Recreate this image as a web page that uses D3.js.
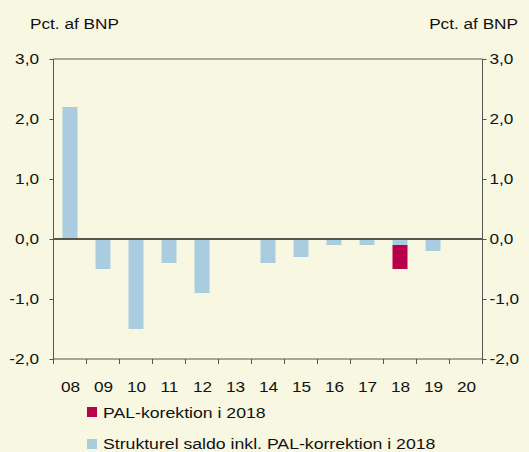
<!DOCTYPE html>
<head>
    <meta charset="utf-8">
    <title>Strukturel saldo</title>
    <style>
        body { margin: 0; background: #f8f8e2; }
        svg { display: block; }
        text { font-family: "Liberation Sans", Arial, sans-serif; font-size: 15.5px; fill: #111; }
        .domain, .tick line { stroke: #555; }
    </style>
</head>
<body>

<svg width="529" height="452"></svg>

<script src="https://d3js.org/d3.v7.min.js"></script>

<script>

// data
var years = ['08', '09', '10', '11', '12', '13', '14', '15', '16', '17', '18', '19', '20'];
var strukturel = [2.2, -0.5, -1.5, -0.4, -0.9, 0, -0.4, -0.3, -0.1, -0.1, -0.1, -0.2, 0];
var palKorrektion = [0, 0, 0, 0, 0, 0, 0, 0, 0, 0, -0.4, 0, 0];
var yTicks = [-2, -1, 0, 1, 2, 3];
var legendLabels = ['PAL-korektion i 2018', 'Strukturel saldo inkl. PAL-korrektion i 2018'];
var unit = 'Pct. af BNP';

var blue = '#a9cddf',
    red = '#b8004b',
    sx = 1.11; // text in the original is a bit wide

var svg = d3.select('svg'),
    plotLeft = 53.5, plotRight = 482.5, plotTop = 59, plotBottom = 359;

var x = d3.scaleBand()
    .domain(years)
    .range([plotLeft, plotRight])
    .paddingInner(0.545)
    .paddingOuter(0.2725);

var xb = d3.scaleBand()
    .domain(years)
    .range([plotLeft, plotRight]);

var y = d3.scaleLinear()
    .domain([-2, 3])
    .range([plotBottom, plotTop]);

var fmt = d3.formatLocale({decimal: ',', thousands: '.', grouping: [3], currency: ['', ''], minus: '-'}).format('.1f');

// stacked: structural part first, PAL correction below it
var rows = years.map((d, i) => ({year: d, s: strukturel[i], p: palKorrektion[i]}));

svg.append('g').selectAll('rect')
    .data(rows)
    .enter().append('rect')
        .attr('x', d => x(d.year))
        .attr('width', x.bandwidth())
        .attr('y', d => y(Math.max(0, d.s)))
        .attr('height', d => Math.abs(y(d.s) - y(0)))
        .attr('fill', blue);

svg.append('g').selectAll('rect')
    .data(rows.filter(d => d.p !== 0))
    .enter().append('rect')
        .attr('x', d => x(d.year))
        .attr('width', x.bandwidth())
        .attr('y', d => y(d.s))
        .attr('height', d => Math.abs(y(d.s + d.p) - y(d.s)))
        .attr('fill', red);

// y axes
var yl = svg.append('g')
    .attr('transform', `translate(${plotLeft},0)`)
    .call(d3.axisLeft(y).tickValues(yTicks).tickSize(4).tickFormat(fmt));
yl.selectAll('text')
    .attr('x', -14.5 / sx)
    .attr('transform', `scale(${sx},1)`)
    .style('font-size', '15.5px');

var yr = svg.append('g')
    .attr('transform', `translate(${plotRight},0)`)
    .call(d3.axisRight(y).tickValues(yTicks).tickSize(4).tickFormat(fmt));
yr.selectAll('text')
    .attr('x', 7 / sx)
    .attr('transform', `scale(${sx},1)`)
    .style('font-size', '15.5px');

svg.selectAll('.domain').remove();

// frame
svg.append('line')
    .attr('x1', plotLeft).attr('x2', plotRight)
    .attr('y1', y(3)).attr('y2', y(3))
    .attr('stroke', '#555');
svg.append('line')
    .attr('x1', plotLeft).attr('x2', plotLeft)
    .attr('y1', y(3)).attr('y2', y(-2))
    .attr('stroke', '#555');
svg.append('line')
    .attr('x1', plotRight).attr('x2', plotRight)
    .attr('y1', y(3)).attr('y2', y(-2))
    .attr('stroke', '#555');

// zero line
svg.append('line')
    .attr('x1', plotLeft).attr('x2', plotRight)
    .attr('y1', y(0)).attr('y2', y(0))
    .attr('stroke', '#55554c')
    .attr('stroke-width', 2);

// x axis with ticks between the years
var xa = svg.append('g');
xa.append('line')
    .attr('x1', plotLeft).attr('x2', plotRight)
    .attr('y1', plotBottom).attr('y2', plotBottom)
    .attr('stroke', '#555');
xa.selectAll('.xt')
    .data(years.map(d => xb(d)).concat([plotRight]))
    .enter().append('line')
        .attr('class', 'xt')
        .attr('x1', d => d).attr('x2', d => d)
        .attr('y1', plotBottom).attr('y2', plotBottom + 5)
        .attr('stroke', '#555');
xa.selectAll('text')
    .data(years)
    .enter().append('text')
        .attr('transform', d => `translate(${xb(d) + xb.bandwidth() / 2 + 0.5},391.5) scale(${sx},1)`)
        .attr('text-anchor', 'middle')
        .text(d => d);

// unit labels
svg.append('text')
    .attr('transform', `translate(30,29) scale(${sx},1)`)
    .text(unit);
svg.append('text')
    .attr('transform', `translate(518,29) scale(${sx},1)`)
    .attr('text-anchor', 'end')
    .text(unit);

// legend
var legend = svg.selectAll('.legend')
    .data(legendLabels)
    .enter().append('g')
        .attr('class', 'legend')
        .attr('transform', (d, i) => `translate(87,${407 + i * 32})`);

legend.append('rect')
    .attr('width', 10)
    .attr('height', 10)
    .attr('fill', (d, i) => i === 0 ? red : blue);

legend.append('text')
    .attr('transform', (d, i) => `translate(16,${i === 0 ? 10.5 : 10}) scale(1.14,1)`)
    .text(d => d);

</script>

</body>
